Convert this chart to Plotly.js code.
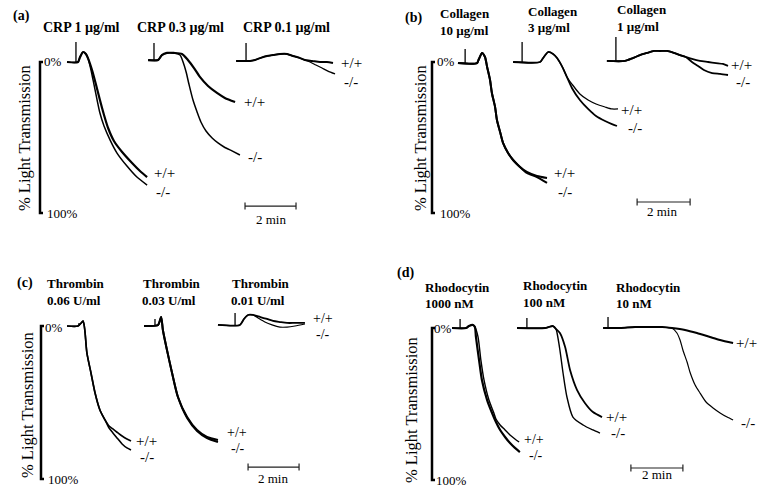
<!DOCTYPE html>
<html><head><meta charset="utf-8">
<script src="https://cdn.plot.ly/plotly-3.0.1.min.js"></script>
<style>html,body{margin:0;padding:0;background:#fff}#chart{width:761px;height:488px}</style>
</head><body><div id="chart"></div>
<script>
// ---------- DATA (time in min, % light transmission) ----------
// Panel (a) CRP
const A1_wt_t=[1.06,1.49,1.57,1.69,1.80,1.88,2.04,2.20,2.35,2.51,2.67,2.90,3.22,3.61,3.92,4.20];
const A1_wt_v=[0,0,-3.3,-6.6,-5.3,-2.6,5.3,15.2,25.2,35.1,43.7,52.3,59.6,66.9,72.2,76.2];
const A1_ko_t=[1.06,1.49,1.57,1.69,1.80,1.88,2.00,2.12,2.24,2.35,2.51,2.75,3.02,3.41,3.80,4.20];
const A1_ko_v=[0,0,-3.3,-6.6,-5.3,-2.6,5.3,15.2,25.2,33.8,42.4,51.7,60.3,68.9,76.2,81.5];
const A2_wt_t=[4.24,4.63,4.78,4.98,5.25,5.57,5.80,6.04,6.27,6.59,6.94,7.25,7.65];
const A2_wt_v=[-1.3,-1.3,-4.6,-6.0,-6.0,-5.3,-1.3,4.0,9.9,15.9,20.5,23.8,26.5];
const A2_ko_t=[4.24,4.63,4.78,4.98,5.25,5.49,5.61,5.73,5.84,6.00,6.16,6.31,6.51,6.75,6.98,7.22,7.53,7.84];
const A2_ko_v=[-1.3,-1.3,-4.6,-6.0,-6.0,-4.6,0,6.6,14.6,25.2,33.1,39.7,45.7,50.3,53.6,56.3,58.9,61.6];
const A3_wt_t=[7.69,8.24,8.43,8.63,8.90,9.14,9.41,9.69,9.92,10.20,10.39,10.67,10.98,11.25,11.49];
const A3_wt_v=[-0.7,-0.7,-1.3,-2.6,-4.0,-4.6,-5.3,-5.3,-4.0,-2.6,-1.3,-0.7,0,0,0.7];
const A3_ko_t=[7.69,8.24,8.43,8.63,8.90,9.14,9.41,9.69,9.92,10.20,10.39,10.59,10.82,11.06,11.29,11.57];
const A3_ko_v=[-0.7,-0.7,-1.3,-2.6,-4.0,-4.6,-5.3,-5.3,-4.0,-2.6,-1.3,0,2.0,4.0,6.0,7.9];
const A_inj_t=[1.41,4.47,8.08], A_inj_base=[0,-1.3,-0.7], A_inj_top=[-13.2,-12.6,-12.6];
// Panel (b) Collagen
const B1_wt_t=[0.98,1.70,1.77,1.89,2.00,2.08,2.19,2.26,2.38,2.45,2.57,2.68,2.87,3.06,3.32,3.58,3.96,4.34];
const B1_wt_v=[0.7,0.7,-2.0,-6.0,-3.3,3.3,11.9,20.5,29.8,38.4,46.4,53.6,60.3,64.9,69.5,72.8,75.5,76.8];
const B1_ko_t=[0.98,1.70,1.77,1.89,2.00,2.08,2.19,2.26,2.38,2.45,2.57,2.68,2.87,3.06,3.32,3.58,3.96,4.34];
const B1_ko_v=[0.7,0.7,-2.0,-6.0,-3.3,3.3,11.9,20.5,29.8,38.4,46.4,53.6,60.3,64.9,69.5,73.5,76.2,80.1];
const B2_wt_t=[3.06,4.08,4.19,4.38,4.57,4.72,4.94,5.09,5.28,5.58,5.89,6.19,6.53,6.79,7.02];
const B2_wt_v=[0,0,-2.6,-6.6,-5.3,-2.6,4.0,9.9,14.6,21.2,25.2,27.8,29.8,31.1,31.1];
const B2_ko_t=[3.06,4.08,4.19,4.38,4.57,4.72,4.94,5.09,5.28,5.58,5.89,6.19,6.53,6.79,6.98];
const B2_ko_v=[0,0,-2.6,-6.6,-5.3,-2.6,4.0,9.9,17.2,25.2,31.1,35.8,39.1,41.1,42.4];
const B3_wt_t=[6.60,7.28,7.58,7.85,8.11,8.38,8.60,8.87,9.13,9.36,9.58,9.81,10.11,10.42,10.72,10.98,11.17];
const B3_wt_v=[-0.7,-0.7,-2.6,-4.6,-6.0,-7.3,-7.3,-7.3,-6.0,-4.6,-3.3,-2.0,-0.7,0,0.7,1.3,2.6];
const B3_ko_t=[6.60,7.28,7.58,7.85,8.11,8.38,8.60,8.87,9.13,9.36,9.58,9.81,10.04,10.26,10.57,10.87,11.17];
const B3_ko_v=[-0.7,-0.7,-2.6,-4.6,-6.0,-7.3,-7.3,-7.3,-6.0,-4.6,-3.3,0,2.6,5.3,7.3,7.9,8.6];
const B_inj_t=[1.25,3.40,6.94], B_inj_base=[0.7,0,-0.7], B_inj_top=[-8.6,-13.2,-16.6];
// Panel (c) Thrombin
const C1_wt_t=[1.02,1.45,1.61,1.65,1.69,1.73,1.80,1.96,2.12,2.31,2.51,2.67,2.82,3.02,3.18,3.37,3.53];
const C1_wt_v=[0,0,-2.6,-3.3,-0.7,4.6,17.6,30.7,43.8,54.9,61.4,65.4,67.3,69.9,71.9,73.9,75.2];
const C1_ko_t=[1.02,1.45,1.61,1.65,1.69,1.73,1.80,1.96,2.12,2.31,2.51,2.67,2.82,3.02,3.18,3.37,3.53];
const C1_ko_v=[0,0,-2.6,-3.3,-0.7,4.6,17.6,30.7,43.8,54.9,61.4,66.7,69.9,73.9,77.1,79.7,81.0];
const C2_wt_t=[4.04,4.27,4.59,4.71,4.78,4.94,5.14,5.37,5.73,6.12,6.51,6.94];
const C2_wt_v=[0,0,-0.7,-5.9,2.6,15.7,30.7,46.4,59.5,68.0,72.5,74.5];
const C2_ko_t=[4.04,4.27,4.59,4.71,4.78,4.94,5.14,5.37,5.73,6.12,6.51,6.94];
const C2_ko_v=[0,0,-0.7,-5.9,2.6,15.7,30.7,46.4,60.1,68.6,73.2,75.8];
const C3_wt_t=[6.94,7.80,7.96,8.12,8.31,8.59,8.86,9.10,9.37,9.65,9.96,10.35];
const C3_wt_v=[-0.7,-0.7,-4.6,-7.2,-7.2,-5.9,-4.6,-3.3,-2.6,-2.0,-2.0,-2.0];
const C3_ko_t=[6.94,7.80,7.96,8.12,8.31,8.51,8.78,9.06,9.37,9.65,9.96,10.35];
const C3_ko_v=[-0.7,-0.7,-4.6,-7.2,-7.2,-5.2,-2.6,-0.7,0.7,0.7,0,-1.3];
const C_inj_t=[1.49,4.47,7.61], C_inj_base=[0,0,-0.7], C_inj_top=[-2.0,-4.6,-8.5];
// Panel (d) Rhodocytin
const D1_wt_t=[0.77,1.31,1.42,1.58,1.65,1.77,1.88,2.00,2.19,2.38,2.46,2.62,2.81,3.00,3.19,3.35];
const D1_wt_v=[0,0,-1.3,-2.0,-0.7,5.9,21.1,34.2,47.4,55.9,59.9,63.8,67.1,70.4,73.0,75.0];
const D1_ko_t=[0.77,1.31,1.42,1.58,1.65,1.69,1.81,1.92,2.12,2.31,2.46,2.62,2.81,3.00,3.19,3.38];
const D1_ko_v=[0,0,-1.3,-2.0,-0.7,5.9,21.1,34.2,47.4,55.9,61.8,67.1,71.7,75.7,78.9,81.6];
const D2_wt_t=[3.27,4.35,4.50,4.65,4.77,4.92,5.12,5.31,5.58,5.88,6.19,6.54];
const D2_wt_v=[0,0,-0.7,-1.3,0.7,3.3,12.5,27.6,40.8,49.3,55.3,58.6];
const D2_ko_t=[3.27,4.35,4.50,4.65,4.77,4.81,4.92,5.04,5.19,5.42,5.81,6.19,6.46];
const D2_ko_v=[0,0,-0.7,-1.3,0.7,3.3,14.5,29.6,45.4,58.6,63.8,67.1,69.1];
const D3_wt_t=[6.58,7.23,7.81,8.38,8.85,9.23,9.73,10.19,10.69,11.08,11.58];
const D3_wt_v=[0,0,-0.7,-0.7,-0.7,0,1.3,3.3,5.9,7.9,9.9];
const D3_ko_t=[6.58,7.23,7.81,8.38,8.85,9.23,9.42,9.54,9.65,9.81,9.92,10.12,10.31,10.54,10.81,11.08,11.35,11.58];
const D3_ko_v=[0,0,-0.7,-0.7,-0.7,0,3.3,7.9,14.5,22.4,28.9,37.5,42.8,48.7,52.6,55.9,58.6,60.5];
const D_inj_t=[1.08,3.65,6.77], D_inj_base=[0,0,0], D_inj_top=[-5.9,-6.6,-7.2];

const scaleMin = 2;          // scale bar length (min)
const yTickVals = [0, 100];
const yTickText = ['0%', '100%'];
const yTitle = '% Light Transmission';
const genotypeLabels = ['+/+', '-/-'];
const panelLetters = ['(a)', '(b)', '(c)', '(d)'];

// ---------- LAYOUT ----------
const W = 761, H = 488;
const FONT = "'Liberation Serif', 'Times New Roman', serif";
// pixel calibration of each panel
const P = [
  {ax:40,  k:25.5, y0:62,  s:1.51, L:28,  R:380, T:30,  B:232, bar:[8.04,95.4]},
  {ax:432, k:26.5, y0:62,  s:1.51, L:420, R:761, T:30,  B:232, bar:[7.74,92.7]},
  {ax:41,  k:25.5, y0:326, s:1.53, L:29,  R:380, T:298, B:488, bar:[8.12,92.2]},
  {ax:432, k:26,   y0:328, s:1.52, L:420, R:761, T:298, B:488, bar:[7.65,92.1]}
];
const layout = {width:W, height:H, margin:{l:0,r:0,t:0,b:0}, showlegend:false,
  paper_bgcolor:'#fff', plot_bgcolor:'rgba(0,0,0,0)', shapes:[], annotations:[],
  font:{family:FONT}};
P.forEach((p,i)=>{
  const n = i===0 ? '' : String(i+1);
  layout['xaxis'+n] = {domain:[p.L/W, p.R/W], range:[(p.L-p.ax)/p.k, (p.R-p.ax)/p.k],
    visible:false, anchor:'y'+n, fixedrange:true};
  layout['yaxis'+n] = {domain:[1-p.B/H, 1-p.T/H], range:[(p.B-p.y0)/p.s, (p.T-p.y0)/p.s],
    visible:false, anchor:'x'+n, fixedrange:true};
  const xr='x'+n, yr='y'+n, tk=3/p.k;
  layout.shapes.push({type:'path', xref:xr, yref:yr,
    path:`M ${tk},${yTickVals[0]} L 0,${yTickVals[0]} L 0,${yTickVals[1]} L ${tk},${yTickVals[1]}`,
    line:{color:'#000', width:2.5}});
  const bx=p.bar[0], by=p.bar[1], h=3.5/p.s;
  layout.shapes.push({type:'path', xref:xr, yref:yr,
    path:`M ${bx},${by-h} L ${bx},${by+h} M ${bx},${by} L ${bx+scaleMin},${by} M ${bx+scaleMin},${by-h} L ${bx+scaleMin},${by+h}`,
    line:{color:'#222', width:1.2}});
});

function ann(text, px, py, size, bold, anchor, angle){
  layout.annotations.push({xref:'paper', yref:'paper', x:px/W, y:1-py/H,
    text: bold ? '<b>'+text+'</b>' : text, showarrow:false,
    xanchor: anchor||'left', yanchor:'middle', textangle: angle||0, borderpad:0,
    font:{family:FONT, size:size, color:'#000'}});
}
ann(panelLetters[0], 12, 16, 14, true);
ann(panelLetters[1], 404, 18, 14, true);
ann(panelLetters[2], 16, 283, 14, true);
ann(panelLetters[3], 396, 273, 14, true);
ann('CRP 1 µg/ml', 42, 28, 14, true);
ann('CRP 0.3 µg/ml', 136, 28, 14, true);
ann('CRP 0.1 µg/ml', 242, 28, 14, true);
ann('Collagen', 439, 13, 13, true); ann('10 µg/ml', 439, 30, 13, true);
ann('Collagen', 527, 11, 13, true); ann('3 µg/ml', 527, 28, 13, true);
ann('Collagen', 616, 10, 13, true); ann('1 µg/ml', 616, 27, 13, true);
ann('Thrombin', 46, 283, 13, true); ann('0.06 U/ml', 46, 300, 13, true);
ann('Thrombin', 142, 283, 13, true); ann('0.03 U/ml', 141, 300, 13, true);
ann('Thrombin', 231, 283, 13, true); ann('0.01 U/ml', 230, 300, 13, true);
ann('Rhodocytin', 424, 287, 13, true); ann('1000 nM', 424, 303, 13, true);
ann('Rhodocytin', 522, 285, 13, true); ann('100 nM', 522, 302, 13, true);
ann('Rhodocytin', 615, 287, 13, true); ann('10 nM', 615, 303, 13, true);
[[43,62,46,213,24,138],[436,62,439,213,420,138],[44,327,47,479,27,405],[433,328,435,480,411,410]]
.forEach(a=>{
  ann(yTickText[0], a[0], a[1], 13, false);
  ann(yTickText[1], a[2], a[3], 13, false);
  ann(yTitle, a[4], a[5], 16.5, false, 'center', -90);
});
ann(scaleMin+' min', 271, 220, 13, false, 'center');
ann(scaleMin+' min', 662, 212, 13, false, 'center');
ann(scaleMin+' min', 273, 478, 13, false, 'center');
ann(scaleMin+' min', 657, 474, 13, false, 'center');
// genotype labels: [x+, y+, x-, y-, size]
[[153,173,155,192,15],[243,102,247,157,15],[340,63,343,82,15],
 [553,173,557,192,15],[620,110,627,128,15],[730,65,735,82,15],
 [135,441,139,457,15],[226,432,230,448,14],[312,318,315,334,14],
 [523,439,528,455,14],[605,417,610,433,15],[735,343,740,423,15]]
.forEach(g=>{ ann(genotypeLabels[0], g[0], g[1], g[4], false); ann(genotypeLabels[1], g[2], g[3], g[4], false); });

// ---------- TRACES ----------
const traces = [];
function line(t, v, i, w){
  const n = i===0 ? '' : String(i+1);
  traces.push({type:'scatter', mode:'lines', x:t, y:v, xaxis:'x'+n, yaxis:'y'+n,
    line:{color:'#000', width:w, shape:'spline', smoothing:0.7}, hoverinfo:'skip'});
}
function inj(t, base, top, i){
  const n = i===0 ? '' : String(i+1);
  t.forEach((tt,j)=>traces.push({type:'scatter', mode:'lines', x:[tt,tt], y:[base[j],top[j]],
    xaxis:'x'+n, yaxis:'y'+n, line:{color:'#000', width:1.3}, hoverinfo:'skip'}));
}
line(A1_wt_t,A1_wt_v,0,2.2); line(A1_ko_t,A1_ko_v,0,1.5);
line(A2_wt_t,A2_wt_v,0,2.2); line(A2_ko_t,A2_ko_v,0,1.5);
line(A3_wt_t,A3_wt_v,0,2.0); line(A3_ko_t,A3_ko_v,0,1.3);
inj(A_inj_t,A_inj_base,A_inj_top,0);
line(B1_wt_t,B1_wt_v,1,2.0); line(B1_ko_t,B1_ko_v,1,2.0);
line(B2_wt_t,B2_wt_v,1,1.3); line(B2_ko_t,B2_ko_v,1,1.8);
line(B3_wt_t,B3_wt_v,1,1.8); line(B3_ko_t,B3_ko_v,1,1.8);
inj(B_inj_t,B_inj_base,B_inj_top,1);
line(C1_wt_t,C1_wt_v,2,1.6); line(C1_ko_t,C1_ko_v,2,1.6);
line(C2_wt_t,C2_wt_v,2,2.0); line(C2_ko_t,C2_ko_v,2,2.0);
line(C3_wt_t,C3_wt_v,2,1.8); line(C3_ko_t,C3_ko_v,2,1.2);
inj(C_inj_t,C_inj_base,C_inj_top,2);
line(D1_wt_t,D1_wt_v,3,1.4); line(D1_ko_t,D1_ko_v,3,2.2);
line(D2_wt_t,D2_wt_v,3,1.8); line(D2_ko_t,D2_ko_v,3,1.4);
line(D3_wt_t,D3_wt_v,3,2.0); line(D3_ko_t,D3_ko_v,3,1.2);
inj(D_inj_t,D_inj_base,D_inj_top,3);

Plotly.newPlot('chart', traces, layout, {displayModeBar:false, staticPlot:true});
</script></body></html>
